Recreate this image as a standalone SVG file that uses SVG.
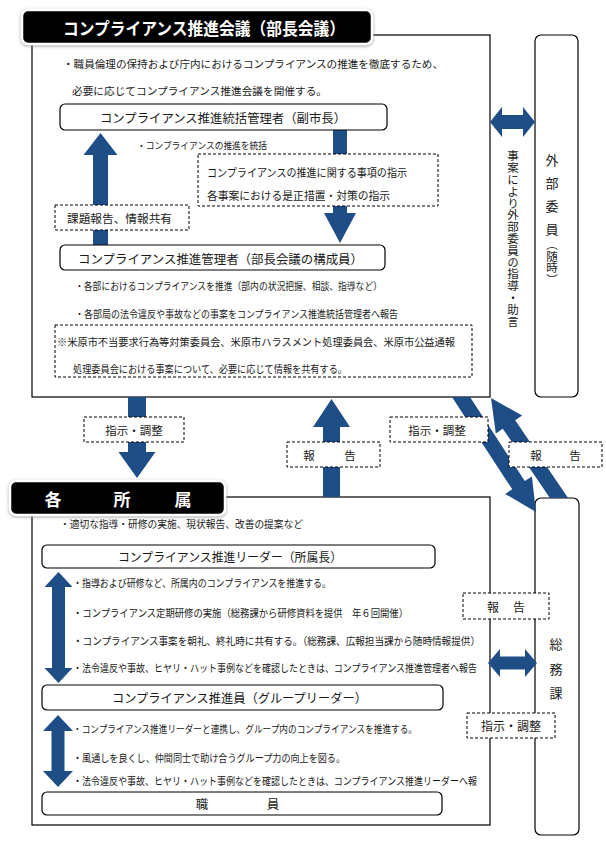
<svg xmlns="http://www.w3.org/2000/svg" width="606" height="841" viewBox="0 0 606 841">
<defs>
<filter id="sh" x="-10%" y="-30%" width="120%" height="160%">
<feDropShadow dx="0" dy="1" stdDeviation="1.6" flood-color="#888" flood-opacity="0.8"/>
</filter>
</defs>
<style>
text{font-family:"Noto Sans CJK JP","Noto Sans CJK SC",sans-serif;fill:#1a1a1a;dominant-baseline:central}
.frame{fill:#fff;stroke:#000;stroke-width:1.2}
.rbox{fill:#fff;stroke:#000;stroke-width:1.2}
.dash{fill:#fff;stroke:#000;stroke-width:1;stroke-dasharray:3 2}
.arr{fill:#1f4e86}
.hd{fill:#000;stroke:#fff;stroke-width:2.5}
.ht{fill:#fff;font-weight:bold}
.s10{font-size:10px}
.s105{font-size:10.5px}
.s11{font-size:11px}
.s12{font-size:12.5px}
.vt{writing-mode:vertical-rl}
</style>
<rect width="606" height="841" fill="#fff"/>

<g id="meeting">
<rect class="frame" x="32" y="35" width="458" height="362"/>
<rect class="hd" x="22" y="10" width="350" height="34" rx="6" filter="url(#sh)"/>
<text class="ht" x="63" y="27" font-size="17" textLength="282" lengthAdjust="spacingAndGlyphs">コンプライアンス推進会議（部長会議）</text>
<text class="s105" x="63" y="63" textLength="380" lengthAdjust="spacingAndGlyphs">・職員倫理の保持および庁内におけるコンプライアンスの推進を徹底するため、</text>
<text class="s105" x="72" y="90" textLength="255" lengthAdjust="spacingAndGlyphs">必要に応じてコンプライアンス推進会議を開催する。</text>
</g>

<g id="external">
<rect class="rbox" x="535" y="35" width="43" height="362" rx="6"/>
<text font-size="13" x="552" y="159" text-anchor="middle">外</text>
<text font-size="13" x="552" y="182" text-anchor="middle">部</text>
<text font-size="13" x="552" y="205" text-anchor="middle">委</text>
<text font-size="13" x="552" y="228" text-anchor="middle">員</text>
<text class="vt" font-size="11.5" x="552" y="239">（随時）</text>
</g>

<g id="divisions">
<rect class="frame" x="32" y="497" width="458" height="328"/>
<rect class="hd" x="10" y="481" width="215" height="34" rx="6" filter="url(#sh)"/>
<text class="ht" font-size="17" x="53" y="498" text-anchor="middle">各</text>
<text class="ht" font-size="17" x="122" y="498" text-anchor="middle">所</text>
<text class="ht" font-size="17" x="183" y="498" text-anchor="middle">属</text>
<text class="s10" x="60" y="523" textLength="243" lengthAdjust="spacingAndGlyphs">・適切な指導・研修の実施、現状報告、改善の提案など</text>
</g>

<g id="soumu">
<rect class="rbox" x="535" y="498" width="44" height="337" rx="6"/>
<text font-size="13" x="556" y="643" text-anchor="middle">総</text>
<text font-size="13" x="556" y="668" text-anchor="middle">務</text>
<text font-size="13" x="556" y="692" text-anchor="middle">課</text>
</g>

<g id="connectors">
<polygon class="arr" points="93,245 108,245 108,155 117.5,155 100.5,133 83.5,155 93,155"/>
<polygon class="arr" points="333,130 347,130 347,213 356,213 340,243 324,213 333,213"/>
<polygon class="arr" points="490,122 502,107 502,115 523,115 523,107 535,122 523,137 523,129 502,129 502,137"/>
<polygon class="arr" points="128,397 146,397 146,452 155.5,452 137,478 118.5,452 128,452"/>
<polygon class="arr" points="323,497 340,497 340,427 350,427 331.5,399 313,427 323,427"/>
<polygon class="arr" points="452,397 470,397 524.8,481.1 531.9,476.5 536,512 505.1,493.9 512.2,489.3"/>
<polygon class="arr" points="549.9,498 568.1,498 515.2,420.3 522.2,415.5 491,398 495.8,433.5 502.8,428.7"/>
<polygon class="arr" points="488,663 500,649 500,656.5 525,656.5 525,649 537,663 525,677 525,669.5 500,669.5 500,677"/>
<polygon class="arr" points="58.5,572 72.5,587 65,587 65,668 72.5,668 58.5,683 44.5,668 52,668 52,587 44.5,587"/>
<polygon class="arr" points="58,715 73,731 64.5,731 64.5,771 73,771 58,787 43,771 51.5,771 51.5,731 43,731"/>

<rect class="dash" x="198" y="154" width="240" height="52"/>
<text class="s11" x="207" y="172" textLength="200" lengthAdjust="spacingAndGlyphs">コンプライアンスの推進に関する事項の指示</text>
<text class="s11" x="207" y="195" textLength="183" lengthAdjust="spacingAndGlyphs">各事案における是正措置・対策の指示</text>
<rect class="dash" x="55" y="205" width="134" height="25"/>
<text font-size="11.5" x="67" y="218" textLength="105" lengthAdjust="spacingAndGlyphs">課題報告、情報共有</text>
<text class="vt" font-size="11.5" x="513" y="150" textLength="177" lengthAdjust="spacingAndGlyphs">事案により外部委員の指導・助言</text>

<rect class="dash" x="84" y="417" width="100" height="25"/>
<text font-size="11.5" x="134" y="430" text-anchor="middle">指示・調整</text>
<rect class="dash" x="287" y="442" width="93" height="25"/>
<text font-size="11.5" x="309" y="455" text-anchor="middle">報</text>
<text font-size="11.5" x="350" y="455" text-anchor="middle">告</text>
<rect class="dash" x="390" y="417" width="98" height="25"/>
<text font-size="11.5" x="437" y="430" text-anchor="middle">指示・調整</text>
<rect class="dash" x="509" y="442" width="93" height="25"/>
<text font-size="11.5" x="536" y="455" text-anchor="middle">報</text>
<text font-size="11.5" x="575" y="455" text-anchor="middle">告</text>

<rect class="dash" x="463" y="593" width="86" height="26"/>
<text font-size="12" x="493" y="606" text-anchor="middle">報</text>
<text font-size="12" x="519" y="606" text-anchor="middle">告</text>
<rect class="dash" x="467" y="713" width="88" height="25"/>
<text font-size="12" x="511" y="725.5" text-anchor="middle">指示・調整</text>
</g>

<g id="general-manager">
<rect class="rbox" x="60" y="104" width="327" height="26" rx="5"/>
<text class="s12" x="100" y="117" textLength="246" lengthAdjust="spacingAndGlyphs">コンプライアンス推進統括管理者（副市長）</text>
<text font-size="9.5" x="137" y="145" textLength="130" lengthAdjust="spacingAndGlyphs">・コンプライアンスの推進を統括</text>
</g>

<g id="manager">
<rect class="rbox" x="60" y="245" width="325" height="25" rx="5"/>
<text class="s12" x="78" y="258" textLength="285" lengthAdjust="spacingAndGlyphs">コンプライアンス推進管理者（部長会議の構成員）</text>
<text class="s10" x="75" y="285" textLength="307" lengthAdjust="spacingAndGlyphs">・各部におけるコンプライアンスを推進（部内の状況把握、相談、指導など）</text>
<text class="s10" x="75" y="313" textLength="323" lengthAdjust="spacingAndGlyphs">・各部局の法令違反や事故などの事案をコンプライアンス推進統括管理者へ報告</text>
</g>

<g id="committee-note">
<rect class="dash" x="55" y="325" width="417" height="52"/>
<text class="s105" x="57" y="341" textLength="398" lengthAdjust="spacingAndGlyphs">※米原市不当要求行為等対策委員会、米原市ハラスメント処理委員会、米原市公益通報</text>
<text class="s105" x="73" y="368" textLength="274" lengthAdjust="spacingAndGlyphs">処理委員会における事案について、必要に応じて情報を共有する。</text>
</g>

<g id="leader">
<rect class="rbox" x="42" y="545" width="393" height="23" rx="5"/>
<text class="s12" x="118" y="556.5" textLength="224" lengthAdjust="spacingAndGlyphs">コンプライアンス推進リーダー（所属長）</text>
<text class="s105" x="73" y="582" textLength="258" lengthAdjust="spacingAndGlyphs">・指導および研修など、所属内のコンプライアンスを推進する。</text>
<text class="s105" x="73" y="612" textLength="335" lengthAdjust="spacingAndGlyphs">・コンプライアンス定期研修の実施（総務課から研修資料を提供　年６回開催）</text>
<text class="s105" x="73" y="640" textLength="407" lengthAdjust="spacingAndGlyphs">・コンプライアンス事案を朝礼、終礼時に共有する。（総務課、広報担当課から随時情報提供）</text>
<text class="s105" x="73" y="667" textLength="404" lengthAdjust="spacingAndGlyphs">・法令違反や事故、ヒヤリ・ハット事例などを確認したときは、コンプライアンス推進管理者へ報告</text>
</g>

<g id="promoter">
<rect class="rbox" x="42" y="685" width="401" height="25" rx="5"/>
<text class="s12" x="112" y="697.5" textLength="255" lengthAdjust="spacingAndGlyphs">コンプライアンス推進員（グループリーダー）</text>
<text class="s10" x="73" y="728" textLength="344" lengthAdjust="spacingAndGlyphs">・コンプライアンス推進リーダーと連携し、グループ内のコンプライアンスを推進する。</text>
<text class="s105" x="73" y="757" textLength="272" lengthAdjust="spacingAndGlyphs">・風通しを良くし、仲間同士で助け合うグループ力の向上を図る。</text>
<text class="s105" x="73" y="780" textLength="404" lengthAdjust="spacingAndGlyphs">・法令違反や事故、ヒヤリ・ハット事例などを確認したときは、コンプライアンス推進リーダーへ報</text>
</g>

<g id="staff">
<rect class="rbox" x="42" y="792" width="400" height="23" rx="5"/>
<text class="s12" x="202" y="803.5" text-anchor="middle">職</text>
<text class="s12" x="273" y="803.5" text-anchor="middle">員</text>
</g>
</svg>
